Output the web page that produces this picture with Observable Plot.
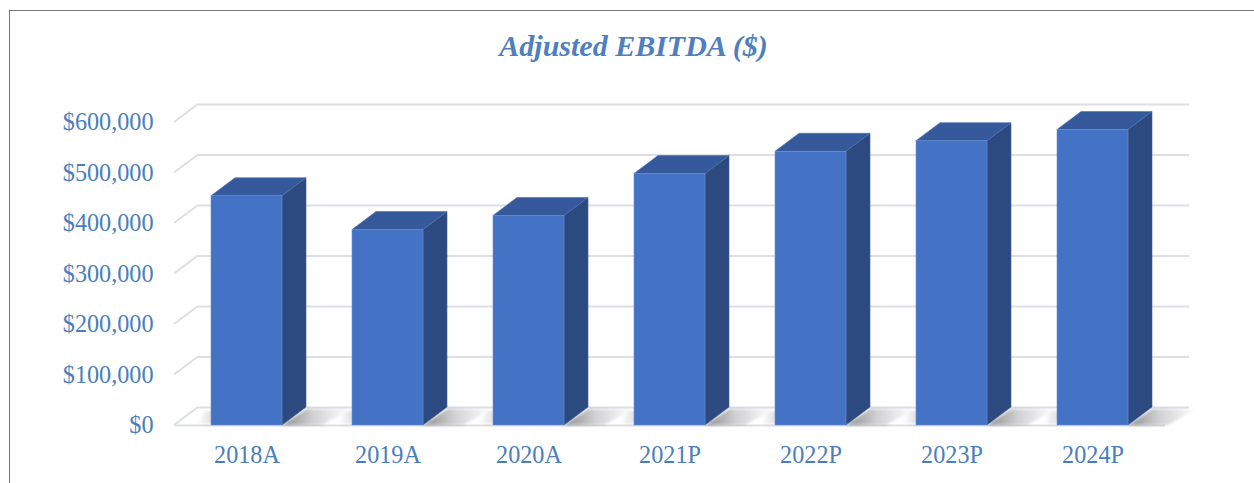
<!DOCTYPE html>
<html><head><meta charset="utf-8">
<script src="https://cdn.jsdelivr.net/npm/d3@7"></script>
<script src="https://cdn.jsdelivr.net/npm/@observablehq/plot@0.6"></script>
<style>
body{margin:0;background:#fff;}
#wrap{position:relative;width:1254px;height:483px;overflow:hidden;background:#fff;}
#frame{position:absolute;left:9px;top:10px;width:1300px;height:600px;border:1px solid #767676;box-sizing:border-box;}
#title{position:absolute;left:0;width:1267px;top:29px;text-align:center;font:bold italic 30px "Liberation Serif",serif;color:#4f7fbe;line-height:34px;}
#chart{position:absolute;left:0;top:0;}
</style></head><body>
<div id="wrap"><div id="frame"></div><div id="chart"></div><div id="title">Adjusted EBITDA ($)</div></div>
<script>
const categories = ["2018A", "2019A", "2020A", "2021P", "2022P", "2023P", "2024P"];
const ebitda = [454000, 387000, 415000, 498000, 542000, 563000, 585000];
const yTicks = [0, 100000, 200000, 300000, 400000, 500000, 600000];

const data = categories.map((c, i) => ({cat: c, value: ebitda[i]}));
const DX = 24, DY = -18;
const NS = "http://www.w3.org/2000/svg";
const gridColor = "#dcdfe8";

function poly(pts, fill) {
  const p = document.createElementNS(NS, "polygon");
  p.setAttribute("points", pts.map(d => d.join(",")).join(" "));
  p.setAttribute("fill", fill);
  return p;
}

// side wall diagonals of the gridlines
function diagRender(index, scales, values, dims) {
  const g = document.createElementNS(NS, "g");
  const x0 = dims.marginLeft;
  for (const i of index) {
    const y = values.y[i];
    const l = document.createElementNS(NS, "line");
    l.setAttribute("x1", x0); l.setAttribute("y1", y);
    l.setAttribute("x2", x0 + DX); l.setAttribute("y2", y + DY);
    l.setAttribute("stroke", gridColor); l.setAttribute("stroke-width", 2);
    g.appendChild(l);
  }
  return g;
}

// 3D bars: front face via Plot, side/top/shadow derived from the rendered rects
function bars3d(index, scales, values, dims, ctx, next) {
  const front = next(index, scales, values, dims, ctx);
  const g = document.createElementNS(NS, "g");
  const defs = document.createElementNS(NS, "defs");
  defs.innerHTML = `<linearGradient id="shd" x1="0" x2="1" y1="0" y2="0">
    <stop offset="0" stop-color="#000" stop-opacity="0.45"/>
    <stop offset="0.45" stop-color="#000" stop-opacity="0.18"/>
    <stop offset="1" stop-color="#000" stop-opacity="0"/></linearGradient>
    <linearGradient id="shdl" x1="1" x2="0" y1="0" y2="0">
    <stop offset="0" stop-color="#000" stop-opacity="0.18"/>
    <stop offset="1" stop-color="#000" stop-opacity="0"/></linearGradient>
    <filter id="blur" x="-20%" y="-50%" width="140%" height="200%"><feGaussianBlur stdDeviation="1.5"/></filter>`;
  g.appendChild(defs);
  const rects = front.querySelectorAll("rect");
  const extra = document.createElementNS(NS, "g");
  const shadows = document.createElementNS(NS, "g");
  shadows.setAttribute("filter", "url(#blur)");
  extra.appendChild(shadows);
  rects.forEach(r => {
    const x = +r.getAttribute("x"), y = +r.getAttribute("y");
    const w = +r.getAttribute("width"), h = +r.getAttribute("height");
    const xr = x + w, yb = y + h;
    // shadows on the floor
    shadows.appendChild(poly([[xr, yb], [xr + DX, yb + DY + 2], [xr + DX + 45, yb + DY + 2], [xr + 40, yb]], "url(#shd)"));
    shadows.appendChild(poly([[x - 14, yb - 1], [x - 6, yb + DY + 4], [x + 8, yb + DY + 4], [x, yb - 1]], "url(#shdl)"));
    // side face
    const side = poly([[xr, y], [xr + DX, y + DY], [xr + DX, yb + DY], [xr, yb]], "#2c4a80");
    side.setAttribute("stroke", "#3f5f99"); side.setAttribute("stroke-width", 0.6);
    extra.appendChild(side);
    // top face
    const top = poly([[x, y], [x + DX, y + DY], [xr + DX, y + DY], [xr, y]], "#35599a");
    top.setAttribute("stroke", "#4a6eae"); top.setAttribute("stroke-width", 0.6);
    extra.appendChild(top);
  });
  g.appendChild(extra);
  g.appendChild(front);
  return g;
}

const chart = Plot.plot({
  width: 1254,
  height: 483,
  marginLeft: 174,
  marginRight: 89,
  marginTop: 122,
  marginBottom: 58,
  style: {fontFamily: "'Liberation Serif', serif", fontSize: "24.2px", color: "#4a7ebb", background: "transparent", overflow: "visible"},
  x: {domain: categories, paddingInner: 0.5, paddingOuter: 0.25, label: null},
  y: {domain: [0, 600000], label: null},
  marks: [
    Plot.ruleY(yTicks, {dx: DX, dy: DY, stroke: gridColor, strokeWidth: 2}),
    Plot.ruleY(yTicks, {stroke: gridColor, render: diagRender}),
    Plot.ruleY([0], {stroke: gridColor, strokeWidth: 2}),
    Plot.barY(data, {x: "cat", y: "value", fill: "#4472c4", stroke: "#6a8fd2", strokeWidth: 0.6, render: bars3d}),
    Plot.axisY(yTicks, {tickSize: 0, tickPadding: 21, tickFormat: d => "$" + d3.format(",")(d), label: null}),
    Plot.axisX({tickSize: 0, tickPadding: 20, label: null})
  ]
});
document.getElementById("chart").appendChild(chart);
</script>
</body></html>
